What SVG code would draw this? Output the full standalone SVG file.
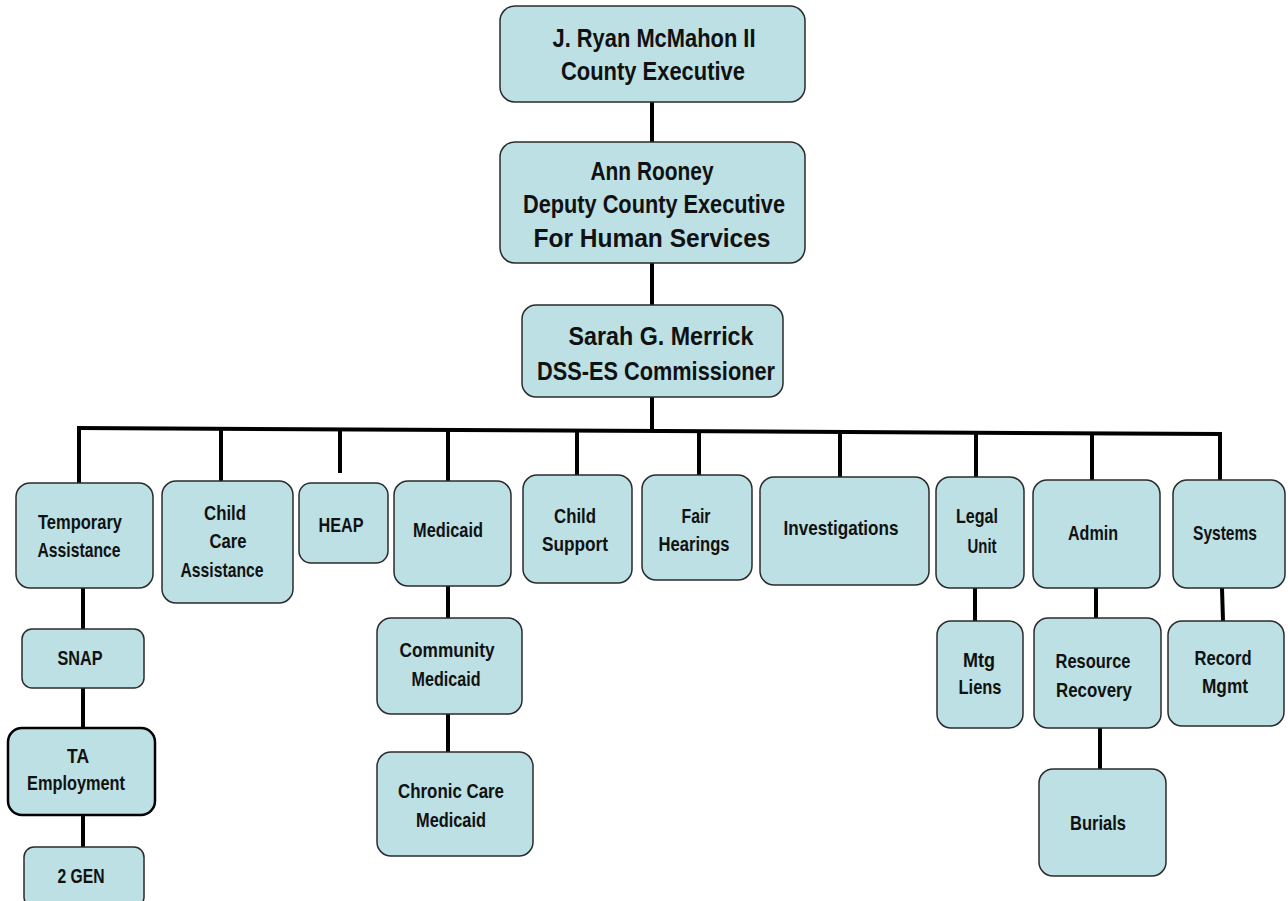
<svg xmlns="http://www.w3.org/2000/svg" width="1288" height="901" viewBox="0 0 1288 901">
<style>
.box{fill:#bce0e3;stroke:#2b2b2b;stroke-width:1.5}
.bold{stroke:#000;stroke-width:2.5}
.t{font-family:"Liberation Sans Narrow","Liberation Sans",Arial,sans-serif;font-weight:bold;fill:#111;text-anchor:middle}
.big{font-size:25px}
.sm{font-size:21px}
.ln{stroke:#000;stroke-width:4;fill:none}
</style>
<rect width="1288" height="901" fill="#fff"/>
<g id="connectors">
<line class="ln" x1="652" y1="102" x2="652" y2="142"/>
<line class="ln" x1="652" y1="263" x2="652" y2="305"/>
<line class="ln" x1="652" y1="397" x2="652" y2="431"/>
<line class="ln" x1="77" y1="428" x2="1222" y2="434"/>
<line class="ln" x1="79" y1="428" x2="79" y2="483"/>
<line class="ln" x1="221" y1="429" x2="221" y2="481"/>
<line class="ln" x1="340" y1="429" x2="340" y2="473"/>
<line class="ln" x1="448" y1="430" x2="448" y2="481"/>
<line class="ln" x1="577" y1="431" x2="577" y2="475"/>
<line class="ln" x1="699" y1="431" x2="699" y2="475"/>
<line class="ln" x1="840" y1="432" x2="840" y2="477"/>
<line class="ln" x1="976" y1="433" x2="976" y2="477"/>
<line class="ln" x1="1092" y1="434" x2="1092" y2="480"/>
<line class="ln" x1="1220" y1="434" x2="1220" y2="480"/>
<line class="ln" x1="83" y1="588" x2="83" y2="629"/>
<line class="ln" x1="83" y1="688" x2="83" y2="728"/>
<line class="ln" x1="83" y1="815" x2="83" y2="847"/>
<line class="ln" x1="448" y1="586" x2="448" y2="618"/>
<line class="ln" x1="448" y1="714" x2="448" y2="752"/>
<line class="ln" x1="975" y1="588" x2="975" y2="621"/>
<line class="ln" x1="1096" y1="584" x2="1096" y2="618"/>
<line class="ln" x1="1100" y1="725" x2="1100" y2="769"/>
<line class="ln" x1="1222" y1="588" x2="1223" y2="621"/>
</g>
<g id="n-exec">
<rect class="box" x="500" y="6" width="305" height="96" rx="15"/>
<text class="t big" x="654" y="47" textLength="203" lengthAdjust="spacingAndGlyphs">J. Ryan McMahon II</text>
<text class="t big" x="653" y="80" textLength="184" lengthAdjust="spacingAndGlyphs">County Executive</text>
</g>
<g id="n-deputy">
<rect class="box" x="500" y="142" width="305" height="121" rx="15"/>
<text class="t big" x="652" y="180" textLength="123" lengthAdjust="spacingAndGlyphs">Ann Rooney</text>
<text class="t big" x="654" y="213" textLength="262" lengthAdjust="spacingAndGlyphs">Deputy County Executive</text>
<text class="t big" x="652" y="247" textLength="237" lengthAdjust="spacingAndGlyphs">For Human Services</text>
</g>
<g id="n-commissioner">
<rect class="box" x="522" y="305" width="261" height="92" rx="14"/>
<text class="t big" x="661" y="345" textLength="185" lengthAdjust="spacingAndGlyphs">Sarah G. Merrick</text>
<text class="t big" x="656" y="380" textLength="238" lengthAdjust="spacingAndGlyphs">DSS-ES Commissioner</text>
</g>
<g id="n-ta">
<rect class="box" x="16" y="483" width="137" height="105" rx="14"/>
<text class="t sm" x="80" y="529" textLength="84" lengthAdjust="spacingAndGlyphs">Temporary</text>
<text class="t sm" x="79" y="557" textLength="83" lengthAdjust="spacingAndGlyphs">Assistance</text>
</g>
<g id="n-childcare">
<rect class="box" x="162" y="481" width="131" height="122" rx="14"/>
<text class="t sm" x="225" y="520" textLength="42" lengthAdjust="spacingAndGlyphs">Child</text>
<text class="t sm" x="228" y="548" textLength="37" lengthAdjust="spacingAndGlyphs">Care</text>
<text class="t sm" x="222" y="577" textLength="83" lengthAdjust="spacingAndGlyphs">Assistance</text>
</g>
<g id="n-heap">
<rect class="box" x="299" y="483" width="89" height="80" rx="12"/>
<text class="t sm" x="341" y="532" textLength="45" lengthAdjust="spacingAndGlyphs">HEAP</text>
</g>
<g id="n-medicaid">
<rect class="box" x="394" y="481" width="117" height="105" rx="14"/>
<text class="t sm" x="448" y="537" textLength="70" lengthAdjust="spacingAndGlyphs">Medicaid</text>
</g>
<g id="n-childsupport">
<rect class="box" x="523" y="475" width="109" height="108" rx="14"/>
<text class="t sm" x="575" y="523" textLength="42" lengthAdjust="spacingAndGlyphs">Child</text>
<text class="t sm" x="575" y="551" textLength="66" lengthAdjust="spacingAndGlyphs">Support</text>
</g>
<g id="n-fair">
<rect class="box" x="642" y="475" width="110" height="105" rx="14"/>
<text class="t sm" x="696" y="523" textLength="29" lengthAdjust="spacingAndGlyphs">Fair</text>
<text class="t sm" x="694" y="551" textLength="71" lengthAdjust="spacingAndGlyphs">Hearings</text>
</g>
<g id="n-investigations">
<rect class="box" x="760" y="477" width="169" height="108" rx="14"/>
<text class="t sm" x="841" y="535" textLength="115" lengthAdjust="spacingAndGlyphs">Investigations</text>
</g>
<g id="n-legal">
<rect class="box" x="936" y="477" width="88" height="111" rx="14"/>
<text class="t sm" x="977" y="523" textLength="42" lengthAdjust="spacingAndGlyphs">Legal</text>
<text class="t sm" x="982" y="553" textLength="29" lengthAdjust="spacingAndGlyphs">Unit</text>
</g>
<g id="n-admin">
<rect class="box" x="1033" y="480" width="127" height="108" rx="14"/>
<text class="t sm" x="1093" y="540" textLength="50" lengthAdjust="spacingAndGlyphs">Admin</text>
</g>
<g id="n-systems">
<rect class="box" x="1173" y="480" width="112" height="108" rx="14"/>
<text class="t sm" x="1225" y="540" textLength="64" lengthAdjust="spacingAndGlyphs">Systems</text>
</g>
<g id="n-snap">
<rect class="box" x="22" y="629" width="122" height="59" rx="10"/>
<text class="t sm" x="80" y="665" textLength="45" lengthAdjust="spacingAndGlyphs">SNAP</text>
</g>
<g id="n-taemp">
<rect class="box bold" x="8" y="728" width="147" height="87" rx="14"/>
<text class="t sm" x="78" y="763" textLength="22" lengthAdjust="spacingAndGlyphs">TA</text>
<text class="t sm" x="76" y="790" textLength="98" lengthAdjust="spacingAndGlyphs">Employment</text>
</g>
<g id="n-2gen">
<rect class="box" x="24" y="847" width="120" height="60" rx="10"/>
<text class="t sm" x="81" y="883" textLength="47" lengthAdjust="spacingAndGlyphs">2 GEN</text>
</g>
<g id="n-community">
<rect class="box" x="377" y="618" width="145" height="96" rx="14"/>
<text class="t sm" x="447" y="657" textLength="95" lengthAdjust="spacingAndGlyphs">Community</text>
<text class="t sm" x="446" y="686" textLength="69" lengthAdjust="spacingAndGlyphs">Medicaid</text>
</g>
<g id="n-chronic">
<rect class="box" x="377" y="752" width="156" height="104" rx="14"/>
<text class="t sm" x="451" y="798" textLength="106" lengthAdjust="spacingAndGlyphs">Chronic Care</text>
<text class="t sm" x="451" y="827" textLength="70" lengthAdjust="spacingAndGlyphs">Medicaid</text>
</g>
<g id="n-mtg">
<rect class="box" x="937" y="621" width="86" height="107" rx="14"/>
<text class="t sm" x="979" y="667" textLength="32" lengthAdjust="spacingAndGlyphs">Mtg</text>
<text class="t sm" x="980" y="694" textLength="43" lengthAdjust="spacingAndGlyphs">Liens</text>
</g>
<g id="n-resource">
<rect class="box" x="1034" y="618" width="127" height="110" rx="14"/>
<text class="t sm" x="1093" y="668" textLength="75" lengthAdjust="spacingAndGlyphs">Resource</text>
<text class="t sm" x="1094" y="697" textLength="76" lengthAdjust="spacingAndGlyphs">Recovery</text>
</g>
<g id="n-burials">
<rect class="box" x="1039" y="769" width="127" height="107" rx="14"/>
<text class="t sm" x="1098" y="830" textLength="56" lengthAdjust="spacingAndGlyphs">Burials</text>
</g>
<g id="n-record">
<rect class="box" x="1168" y="621" width="116" height="105" rx="14"/>
<text class="t sm" x="1223" y="665" textLength="57" lengthAdjust="spacingAndGlyphs">Record</text>
<text class="t sm" x="1225" y="693" textLength="46" lengthAdjust="spacingAndGlyphs">Mgmt</text>
</g>
</svg>
